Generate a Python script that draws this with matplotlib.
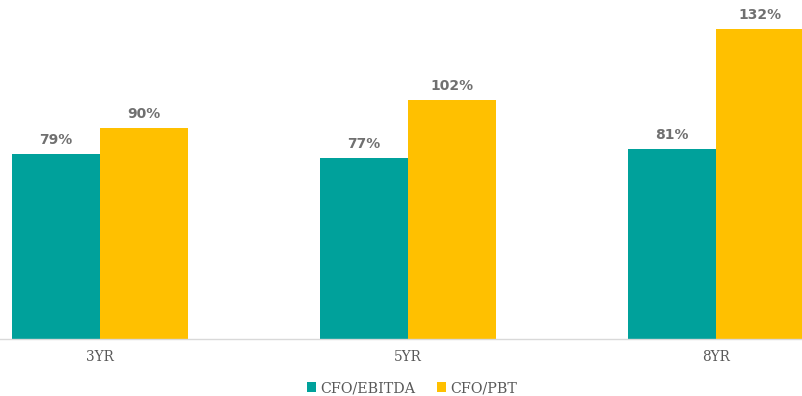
import matplotlib
matplotlib.use("Agg")
import matplotlib.pyplot as plt
import numpy as np

# Cash-conversion ratios by lookback period
periods = ["3YR", "5YR", "8YR"]
cfo_ebitda = [79, 77, 81]
cfo_pbt = [90, 102, 132]
series_names = ["CFO/EBITDA", "CFO/PBT"]

TEAL = "#00A19B"
GOLD = "#FFC000"
LABEL_GREY = "#595959"

fig = plt.figure(figsize=(8.02, 3.96), dpi=100)
ax = fig.add_axes([0, 57 / 396, 1, 339 / 396])

x = np.arange(len(periods))
w = 0.286
b1 = ax.bar(x - w / 2, cfo_ebitda, w, color=TEAL, label=series_names[0])
b2 = ax.bar(x + w / 2, cfo_pbt, w, color=GOLD, label=series_names[1])

for bars, vals in ((b1, cfo_ebitda), (b2, cfo_pbt)):
    for r, v in zip(bars, vals):
        ax.annotate(f"{v}%", (r.get_x() + r.get_width() / 2, v),
                    xytext=(0, 5), textcoords="offset points",
                    ha="center", va="bottom", fontsize=10,
                    fontweight="bold", color="#707070", family="DejaVu Sans")

ax.set_xlim(-100 / 308, 702 / 308)
ax.set_ylim(0, 339 / 2.348)

for s in ("top", "right", "left"):
    ax.spines[s].set_visible(False)
ax.spines["bottom"].set_color("#d9d9d9")
ax.spines["bottom"].set_linewidth(1)
ax.set_yticks([])
ax.set_xticks(x)
ax.set_xticklabels(periods, family="DejaVu Serif", fontsize=9.8, color=LABEL_GREY)
ax.tick_params(axis="x", length=0, pad=8)

fig.legend(handles=[b1, b2], labels=series_names, loc="center",
           bbox_to_anchor=(412 / 802, 1 - 388 / 396), ncol=2, frameon=False,
           prop={"family": "DejaVu Serif", "size": 10.3},
           labelcolor=LABEL_GREY, handlelength=0.65, handleheight=0.65,
           handletextpad=0.3, columnspacing=1.5)

fig.savefig("out.png", dpi=100)
